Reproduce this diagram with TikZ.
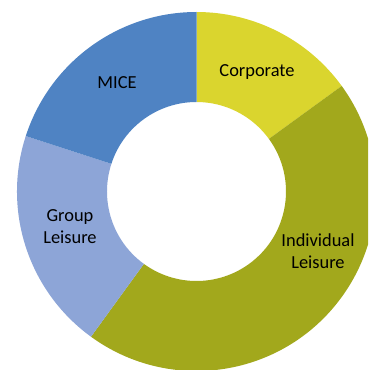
\documentclass[tikz,border=0pt]{standalone}
\usepackage{fontspec}
\setmainfont{Carlito}
\definecolor{corpc}{HTML}{DAD52E}
\definecolor{indc}{HTML}{A2A81C}
\definecolor{grpc}{HTML}{8DA5D7}
\definecolor{micec}{HTML}{4F83C3}
\begin{document}
\begin{tikzpicture}[x=1pt,y=1pt,
  lbl/.style={font=\fontsize{18.4}{22}\selectfont, align=center, text=black, inner sep=0pt}]
\useasboundingbox (0,0) rectangle (368,370);
\clip (0,0) rectangle (368,370);
\fill[white] (0,0) rectangle (368,370);
\coordinate (c) at (196.5,178.5);
\def\Ro{179.5}
\def\Ri{89.5}
\newcommand{\seg}[3]{\fill[#3] ([shift={(#1:\Ro)}]c) arc[start angle=#1, end angle=#2, radius=\Ro] -- ([shift={(#2:\Ri)}]c) arc[start angle=#2, end angle=#1, radius=\Ri] -- cycle;}
\seg{36}{90}{corpc}
\seg{-126}{36}{indc}
\seg{162}{234}{grpc}
\seg{90}{162}{micec}
\node[lbl] (corp) at (257,298) {Corporate};
\node[lbl] (mice) at (117,287) {MICE};
\node[lbl] (grp) at (70,143.5) {Group\\Leisure};
\node[lbl] (ind) at (318,118.5) {Individual\\Leisure};
\end{tikzpicture}
\end{document}
